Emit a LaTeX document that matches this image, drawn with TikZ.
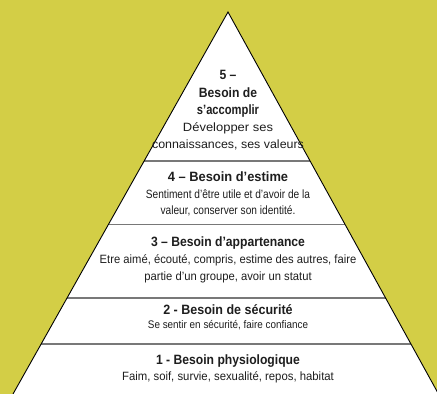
\documentclass[tikz,border=0pt]{standalone}
\usepackage{fontspec}
\usepackage{graphicx}
\setmainfont{Liberation Sans}[FakeStretch=0.9]
\usetikzlibrary{calc}
\definecolor{bgyellow}{RGB}{211,206,70}
\definecolor{sepgray}{RGB}{120,120,120}
\definecolor{txt}{RGB}{30,30,30}
\begin{document}
\begin{tikzpicture}[x=1pt,y=-1pt,
  title/.style={font=\fontsize{13.5}{15}\selectfont\bfseries, text=txt, inner sep=0pt, anchor=center},
  body/.style={font=\fontsize{12}{14}\selectfont, text=txt, inner sep=0pt, anchor=center},
  sep/.style={draw=sepgray, line width=1.3pt}]
\fill[bgyellow] (0,0) rectangle (437,394);
\useasboundingbox (0,0) rectangle (437,394);
\coordinate (apex) at (228,12);
\coordinate (bl) at (13,394);
\coordinate (br) at (438.5,394);
\fill[white] (apex) -- (bl) -- (br) -- cycle;
% separators
\foreach \t/\n in {0.390/a,0.5563/b,0.749/c,0.869/d}{
  \coordinate (l\n) at ($(apex)!\t!(bl)$);
  \coordinate (r\n) at ($(apex)!\t!(br)$);
  \draw[sep] (l\n) -- (r\n);
}
\draw[black, line width=0.9pt, line join=miter] (bl) -- (apex) -- (br);
% level 5
\node[title] (t5a) at (228,75) {5 –};
\node[title] (t5b) at (228,93) {Besoin de};
\node[title] (t5c) at (228,111) {\scalebox{0.92}[1]{s'accomplir}};
\node[body] (b5a) at (228,128) {\scalebox{1.2}[1]{Développer ses}};
\node[body] (b5b) at (228,145) {\scalebox{1.15}[1]{connaissances, ses valeurs}};
% level 4
\node[title] (t4) at (228,177) {\scalebox{1.06}[1]{4 – Besoin d'estime}};
\node[body] (b4a) at (228,194) {\scalebox{0.94}[1]{Sentiment d'être utile et d'avoir de la}};
\node[body] (b4b) at (228,211) {\scalebox{0.94}[1]{valeur, conserver son identité.}};
% level 3
\node[title] (t3) at (228,243) {3 – Besoin d'appartenance};
\node[body] (b3a) at (228,260) {\scalebox{1.04}[1]{Etre aimé, écouté, compris, estime des autres, faire}};
\node[body] (b3b) at (228,277) {\scalebox{1.04}[1]{partie d'un groupe, avoir un statut}};
% level 2
\node[title] (t2) at (228,310) {\scalebox{1.03}[1]{2 - Besoin de sécurité}};
\node[body, font=\fontsize{11}{13}\selectfont] (b2) at (228,325) {Se sentir en sécurité, faire confiance};
% level 1
\node[title] (t1) at (228,361) {1 - Besoin physiologique};
\node[body] (b1) at (228,377) {\scalebox{1.05}[1]{Faim, soif, survie, sexualité, repos, habitat}};
\end{tikzpicture}
\end{document}
